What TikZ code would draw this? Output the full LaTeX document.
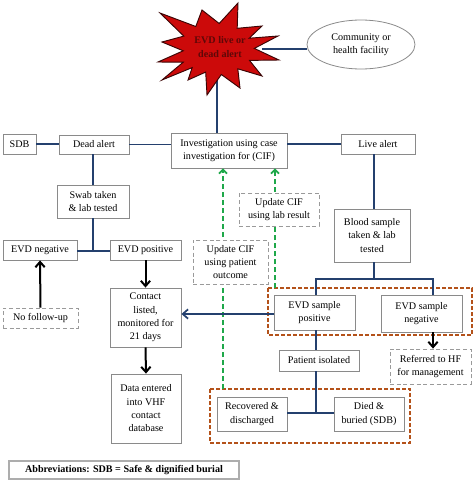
\documentclass[tikz,border=0pt]{standalone}
\usepackage{fontspec}
\setmainfont{Liberation Serif}
\usetikzlibrary{shapes.geometric,arrows.meta}
\definecolor{conblue}{HTML}{24406E}
\definecolor{boxgray}{HTML}{8A8A8A}
\definecolor{dashgray}{HTML}{9A9A9A}
\definecolor{orgbox}{HTML}{B4521A}
\definecolor{grn}{HTML}{1FA84A}
\definecolor{starred}{HTML}{CC0A0A}
\definecolor{staredge}{HTML}{3A0505}
\definecolor{startext}{HTML}{5E0808}
\tikzset{
  x=0.75pt, y=-0.75pt,
  base/.style={align=center, inner sep=0pt, font=\fontsize{7.6}{10}\selectfont, fill=white},
  box/.style={base, draw=boxgray, line width=0.6pt},
  dbox/.style={base, draw=dashgray, line width=0.6pt, densely dashed},
  sz/.style 2 args={minimum width=#1*0.75pt, minimum height=#2*0.75pt},
  con/.style={draw=conblue, line width=1.1pt},
  barrow/.style={draw=black, line width=1.5pt, -{Straight Barb[length=4pt,width=7pt,line width=1.5pt]}},
  blarrow/.style={draw=conblue, line width=1.3pt, -{Straight Barb[length=4pt,width=7pt,line width=1.3pt]}},
  garrow/.style={draw=grn, line width=1.3pt, dash pattern=on 4pt off 2pt, -{Straight Barb[length=3pt,width=6pt,line width=1.3pt]}},
  obox/.style={draw=orgbox, line width=1.3pt, dash pattern=on 3pt off 1.5pt},
}
\begin{document}
\begin{tikzpicture}
\useasboundingbox (0,0) rectangle (474,482);
% top
\node[draw=boxgray, fill=white, ellipse, line width=0.6pt, inner sep=0pt, sz={108}{49}, align=center, font=\fontsize{7.6}{10}\selectfont] (ell) at (361,44.5) {Community or\\health facility};
\coordinate (starC) at (217,60);
\coordinate (starR) at (262,49);
\node[box, sz={116}{35}] (inv) at (229,150.5) {Investigation using case\\investigation for (CIF)};
\draw[con] (starC) -- (inv.north -| starC);
\draw[con] (starR) -- (ell.west |- starR);
\filldraw[fill=starred, draw=staredge, line width=0.7pt]
 (160,13) -- (195.8,26.5) -- (202,10) -- (219.2,23.5) -- (238,3) -- (237.2,28.3) -- (262,26) -- (249.2,38.2) -- (278,36) -- (254.3,48.4) -- (279,60) -- (249.5,60.4) -- (262,76) -- (237.8,68.8) -- (240,88) -- (221.3,74.5) -- (207,95) -- (205.7,72.1) -- (188,80) -- (192.2,67.6) -- (162,80) -- (183.2,62.2) -- (158,62) -- (183.2,50.8) -- (162,42) -- (183.8,36.1) -- cycle;
\node[align=center, font=\fontsize{7.6}{10}\selectfont\bfseries, text=startext] (startxt) at (220,47) {EVD live or\\dead alert};
% row of alerts
\node[box, sz={33}{20}] (sdb) at (19.5,144) {SDB};
\node[box, sz={70}{19}] (dead) at (94,144.5) {Dead alert};
\node[box, sz={74}{20}] (live) at (378,144) {Live alert};
\draw[con] (sdb.east) -- (dead.west |- sdb.east);
\draw[con] (dead.east) -- (inv.west |- dead.east);
\draw[con] (inv.east |- live.west) -- (live.west);
% dead branch
\node[box, sz={72}{33}] (swab) at (93,201.5) {Swab taken\\\& lab tested};
\node[box, sz={74}{20}] (evdneg) at (40,250) {EVD negative};
\node[box, sz={71}{20}] (evdpos) at (145.5,250) {EVD positive};
\coordinate (j1) at (93,251);
\draw[con] (dead.south -| swab.north) -- (swab.north);
\draw[con] (swab.south) -- (j1);
\draw[con] (evdneg.east |- j1) -- (evdpos.west |- j1);
\node[dbox, sz={75}{20}] (nofollow) at (40.5,318) {No follow-up};
\node[box, sz={71}{59}] (contact) at (145.5,317.5) {Contact\\listed,\\monitored for\\21 days};
\node[box, sz={70}{69}] (data) at (146,408.5) {Data entered\\into VHF\\contact\\database};
\draw[barrow] (nofollow.north) -- (evdneg.south);
\draw[barrow] (evdpos.south) -- (contact.north);
\draw[barrow] (contact.south) -- (data.north);
% live branch
\node[box, sz={76}{53}] (blood) at (372,235.5) {Blood sample\\taken \& lab\\tested};
\draw[con] (live.south -| 374,0) -- (blood.north -| 374,0);
\coordinate (j2) at (374,279);
\coordinate (jl) at (316,279);
\coordinate (jr) at (433,279);
\draw[obox] (268,288) rectangle (472,335);
\draw[obox] (210,389) rectangle (410,443);
% green feedback arrows
\coordinate (g1) at (223,389);
\coordinate (g2) at (275,288);
\draw[garrow] (g1) -- (inv.south -| g1);
\draw[garrow] (g2) -- (inv.south -| g2);
\node[dbox, sz={75}{44}] (updpat) at (230.5,262) {Update CIF\\using patient\\outcome};
\node[dbox, sz={80}{33}] (updlab) at (279,209.5) {Update CIF\\using lab result};
\node[box, sz={81}{35}] (spos) at (314.5,312.5) {EVD sample\\positive};
\node[box, sz={81}{37}] (sneg) at (421.5,313.5) {EVD sample\\negative};
\draw[con] (blood.south -| j2) -- (j2);
\draw[con] (spos.north -| jl) -- (jl) -- (jr) -- (sneg.north -| jr);
\draw[blarrow] (spos.west |- 0,314) -- (contact.east |- 0,314);
\node[dbox, sz={81}{35}] (referred) at (430.5,366.5) {Referred to HF\\for management};
\draw[barrow] (sneg.south -| jr) -- (referred.north -| jr);
\node[box, sz={80}{21}] (isolated) at (319,360.5) {Patient isolated};
\node[box, sz={70}{34}] (recov) at (252,414) {Recovered \&\\discharged};
\node[box, sz={70}{34}] (died) at (369,414) {Died \&\\buried (SDB)};
\coordinate (j3) at (316,413);
\draw[con] (spos.south -| jl) -- (isolated.north -| jl);
\draw[con] (isolated.south -| jl) -- (j3);
\draw[con] (recov.east |- j3) -- (died.west |- j3);
% abbreviations
\node[base, draw=boxgray!70, line width=1pt, sz={230}{18}, font=\fontsize{7.6}{10}\selectfont\bfseries] (abbr) at (124,470) {Abbreviations: SDB = Safe \& dignified burial};
\end{tikzpicture}
\end{document}
